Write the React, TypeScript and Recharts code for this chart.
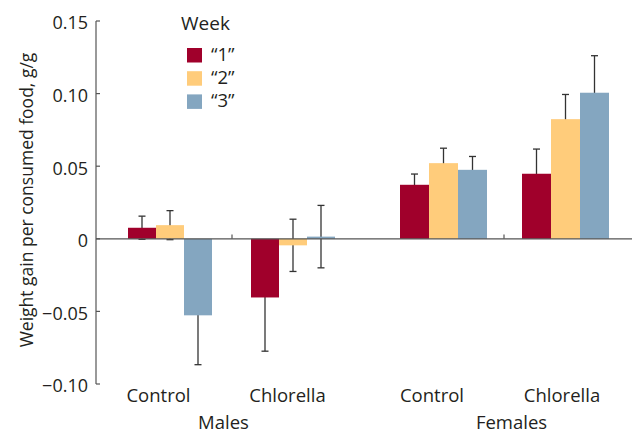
import React from 'react';
import { BarChart, Bar, XAxis, YAxis, ReferenceLine, Legend, Label } from 'recharts';

// ---------- data ----------
const categories = ['Control', 'Chlorella'];
const weekNames = ['\u201C1\u201D', '\u201C2\u201D', '\u201C3\u201D'];

const maleWeek1 = [0.0076, -0.0404];
const maleWeek1Err = [0.008, 0.037];
const maleWeek2 = [0.0094, -0.0045];
const maleWeek2Err = [0.01, 0.018];
const maleWeek3 = [-0.0527, 0.0015];
const maleWeek3Err = [0.034, 0.0215];

const femaleWeek1 = [0.0372, 0.0448];
const femaleWeek1Err = [0.0074, 0.017];
const femaleWeek2 = [0.0521, 0.0824];
const femaleWeek2Err = [0.0103, 0.017];
const femaleWeek3 = [0.0475, 0.1006];
const femaleWeek3Err = [0.0092, 0.0255];

const yTicks = [-0.1, -0.05, 0, 0.05, 0.1, 0.15];
const yDomain: [number, number] = [-0.1, 0.15];
const groupNames = ['Males', 'Females'];
const yLabel = 'Weight gain per consumed food, g/g';

// ---------- styles ----------
const FONT = "'Open Sans', sans-serif";
const TEXT = '#231f20';
const AXIS = '#555555';
const COLORS = ['#A0002B', '#FFCC7B', '#84A6C0'];

const buildRows = (
  w1: number[], e1: number[], w2: number[], e2: number[], w3: number[], e3: number[]
) =>
  categories.map((c, i) => ({
    category: c,
    w1: w1[i], e1: e1[i],
    w2: w2[i], e2: e2[i],
    w3: w3[i], e3: e3[i],
  }));

const maleRows = buildRows(maleWeek1, maleWeek1Err, maleWeek2, maleWeek2Err, maleWeek3, maleWeek3Err);
const femaleRows = buildRows(femaleWeek1, femaleWeek1Err, femaleWeek2, femaleWeek2Err, femaleWeek3, femaleWeek3Err);

const fmtY = (v: number) => {
  if (Math.abs(v) < 1e-9) return '0';
  const s = Math.abs(v).toFixed(2);
  return v < 0 ? '\u2212' + s : s;
};

// Bar shape that draws its error bar behind the rectangle
const makeShape = (key: string, errKey: string) => (props: any) => {
  const { x, y, width, height, fill, payload, background } = props;
  const val: number = payload[key];
  const err: number = payload[errKey];
  const top = Math.min(y, y + height);
  const bot = Math.max(y, y + height);
  let k: number;
  if (background && background.height) k = background.height / (yDomain[1] - yDomain[0]);
  else k = val !== 0 ? (bot - top) / Math.abs(val) : 0;
  const zeroY = val >= 0 ? bot : top;
  const hiY = zeroY - (val + err) * k;
  const loY = zeroY - (val - err) * k;
  const cx = x + width / 2;
  const cap = 3.5;
  return (
    <g>
      <line x1={cx} x2={cx} y1={hiY} y2={loY} stroke="#333" strokeWidth={1.3} />
      <line x1={cx - cap} x2={cx + cap} y1={hiY} y2={hiY} stroke="#333" strokeWidth={1.3} />
      <line x1={cx - cap} x2={cx + cap} y1={loY} y2={loY} stroke="#333" strokeWidth={1.3} />
      <rect x={x} y={top} width={width} height={bot - top} fill={fill} />
    </g>
  );
};

const shapes = [makeShape('w1', 'e1'), makeShape('w2', 'e2'), makeShape('w3', 'e3')];

const makeCatTick = (offsets: number[]) => (props: any) => {
  const { x, y, payload, index } = props;
  const dx = offsets[index] ?? 0;
  return (
    <text x={x + dx} y={y + 18} textAnchor="middle" fontSize={18.5} fontFamily={FONT} fill={TEXT}>
      {payload.value}
    </text>
  );
};

const makeGroupLabel = (text: string, dx: number) => (props: any) => {
  const vb = props.viewBox || {};
  const cx = (vb.x ?? 0) + (vb.width ?? 0) / 2 + dx;
  return (
    <text x={cx} y={429} textAnchor="middle" fontSize={18.5} fontFamily={FONT} fill={TEXT}>
      {text}
    </text>
  );
};

const LegendContent = (props: any) => {
  const payload = props.payload || [];
  return (
    <svg width={90} height={100} style={{ overflow: 'visible' }}>
      <text x={0} y={16} fontSize={19} fontFamily={FONT} fill={TEXT}>Week</text>
      {payload.map((p: any, i: number) => (
        <g key={i}>
          <rect x={6} y={34 + i * 23.2} width={15} height={14.5} fill={p.color} />
          <text x={30} y={46.5 + i * 23.2} fontSize={18.5} fontFamily={FONT} fill={TEXT}>{p.value}</text>
        </g>
      ))}
    </svg>
  );
};

const YLabelContent = () => (
  <text transform="translate(33,200) rotate(-90)" textAnchor="middle" fontSize={17.5} fontFamily={FONT} fill={TEXT}>
    {yLabel}
  </text>
);

const renderBars = () =>
  ['w1', 'w2', 'w3'].map((k, i) => (
    <Bar
      key={k}
      dataKey={k}
      name={weekNames[i]}
      fill={COLORS[i]}
      shape={shapes[i]}
      isAnimationActive={false}
    />
  ));

export default function App() {
  return (
    <div style={{ position: 'absolute', left: 0, top: 0, width: 632, height: 435, background: '#fff' }}>
      <div style={{ position: 'absolute', left: 0, top: 0 }}>
        <BarChart
          width={363}
          height={435}
          data={maleRows}
          margin={{ top: 21, right: 0, bottom: 0, left: 0 }}
          barCategoryGap={19}
          barGap={0}
        >
          <XAxis
            dataKey="category"
            height={51}
            axisLine={false}
            tickLine={false}
            tickSize={0}
            tickMargin={0}
            interval={0}
            padding={{ left: 13, right: 8 }}
            tick={makeCatTick([-12, -6])}
          >
            <Label content={makeGroupLabel(groupNames[0], -6)} />
          </XAxis>
          <YAxis
            type="number"
            domain={yDomain}
            ticks={yTicks}
            allowDataOverflow
            width={96}
            tickSize={-4}
            tickMargin={12}
            tickFormatter={fmtY}
            axisLine={{ stroke: AXIS, strokeWidth: 1.2 }}
            tickLine={{ stroke: AXIS, strokeWidth: 1.2 }}
            tick={{ fill: TEXT, fontSize: 18, fontFamily: FONT, dy: 2 }}
          >
            <Label content={YLabelContent} />
          </YAxis>
          <ReferenceLine y={0} stroke={AXIS} strokeWidth={1.2} />
          <ReferenceLine
            segment={[{ x: 'Chlorella', y: 0 }, { x: 'Chlorella', y: 0.003 }]}
            position="start"
            stroke={AXIS}
            strokeWidth={1.2}
          />
          <Legend
            layout="vertical"
            verticalAlign="middle"
            align="center"
            content={LegendContent}
            wrapperStyle={{ position: 'absolute', left: 181, top: 14, width: 90, height: 100 }}
          />
          {renderBars()}
        </BarChart>
      </div>
      <div style={{ position: 'absolute', left: 363, top: 0 }}>
        <BarChart
          width={269}
          height={435}
          data={femaleRows}
          margin={{ top: 21, right: 0, bottom: 0, left: 0 }}
          barCategoryGap={18}
          barGap={0}
        >
          <XAxis
            dataKey="category"
            height={51}
            axisLine={false}
            tickLine={false}
            tickSize={0}
            tickMargin={0}
            interval={0}
            padding={{ left: 19, right: 6 }}
            tick={makeCatTick([-11, -3])}
          >
            <Label content={makeGroupLabel(groupNames[1], 14)} />
          </XAxis>
          <YAxis type="number" domain={yDomain} ticks={yTicks} allowDataOverflow hide />
          <ReferenceLine y={0} stroke={AXIS} strokeWidth={1.2} />
          <ReferenceLine
            segment={[{ x: 'Chlorella', y: 0 }, { x: 'Chlorella', y: 0.003 }]}
            position="start"
            stroke={AXIS}
            strokeWidth={1.2}
          />
          {renderBars()}
        </BarChart>
      </div>
    </div>
  );
}
